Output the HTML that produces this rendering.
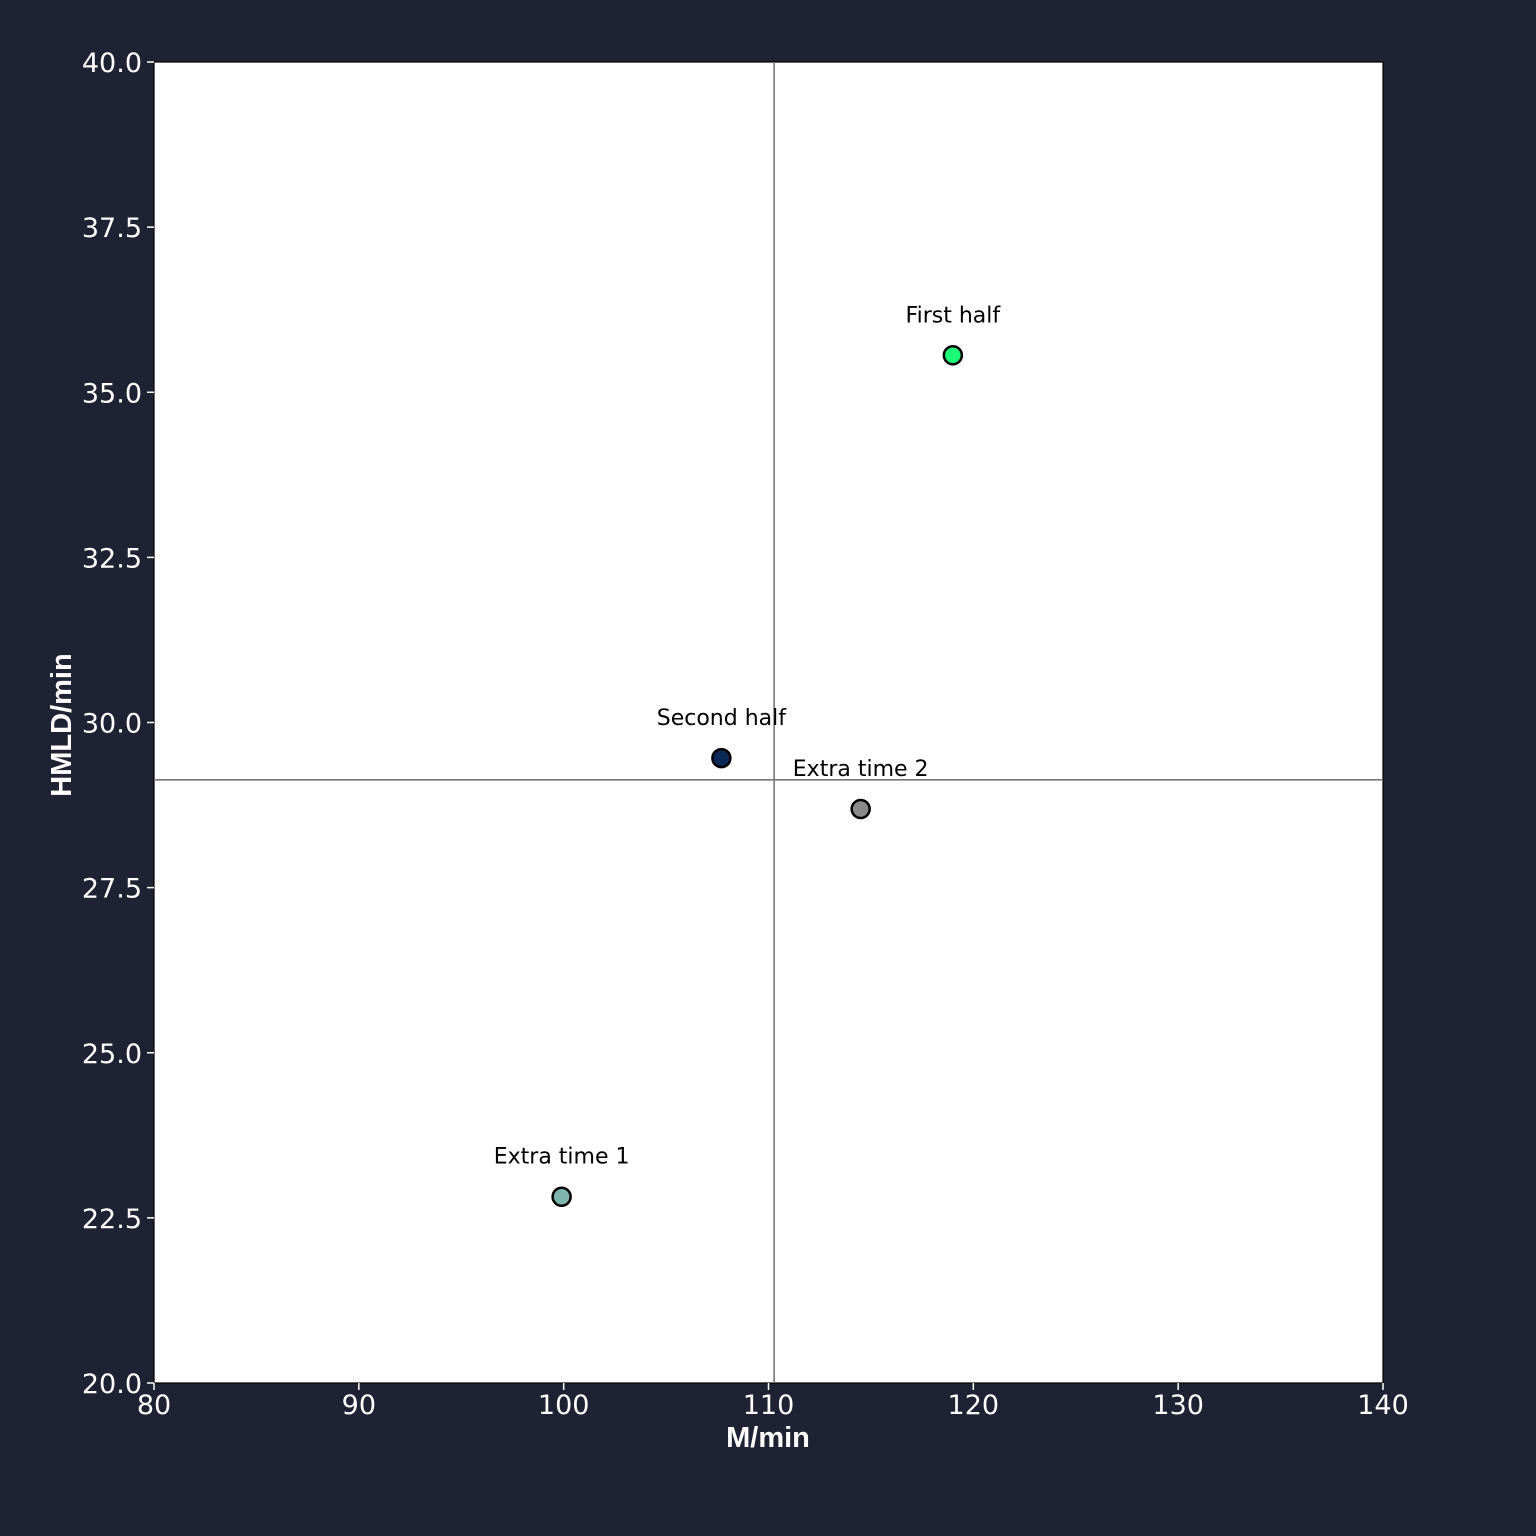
<!DOCTYPE html>
<html><head><meta charset="utf-8">
<style>
html,body{margin:0;padding:0;background:#1e2233;}
svg{display:block;}
</style></head>
<body>
<svg id="chart" width="1536" height="1536" xmlns="http://www.w3.org/2000/svg">
<rect x="0" y="0" width="1536" height="1536" fill="#1e2233"/>
<rect x="154" y="62" width="1229" height="1321" fill="#ffffff" stroke="#000" stroke-width="1.2"/>
<g id="grid"></g>
<g id="axes"></g>
<g id="marks"></g>
<text x="768" y="1447" fill="#fff" font-family="Liberation Sans, sans-serif" font-weight="bold" font-size="29" text-anchor="middle">M/min</text>
<text transform="translate(71,725) rotate(-90)" fill="#fff" font-family="Liberation Sans, sans-serif" font-weight="bold" font-size="29" text-anchor="middle">HMLD/min</text>
</svg>
<script>
const labels = ["First half","Second half","Extra time 2","Extra time 1"];
const xValues = [119.0, 107.7, 114.5, 99.9];
const yValues = [35.56, 29.46, 28.69, 22.82];
const colors = ["#1dfa78","#0b2857","#8a8a8a","#7db4ad"];
const xTicks = [80,90,100,110,120,130,140];
const yTicks = [20.0,22.5,25.0,27.5,30.0,32.5,35.0,37.5,40.0];

const X0=154,X1=1383,Y0=62,Y1=1383;
const xs=v=>X0+(v-80)/60*(X1-X0);
const ys=v=>Y1-(v-20)/20*(Y1-Y0);
const NS="http://www.w3.org/2000/svg";
function mk(tag,attrs,parent){const e=document.createElementNS(NS,tag);for(const k in attrs)e.setAttribute(k,attrs[k]);parent.appendChild(e);return e;}
const axes=document.getElementById('axes'),marks=document.getElementById('marks'),grid=document.getElementById('grid');
const font="DejaVu Sans, Liberation Sans, sans-serif";
xTicks.forEach(t=>{
  const l=mk('line',{x1:xs(t),x2:xs(t),y1:Y1,y2:Y1+7,stroke:'#fff','stroke-width':1.5},axes);
  
  
  const tx=mk('text',{x:xs(t),y:Y1+31,fill:'#fff','font-family':font,'font-size':27,'text-anchor':'middle'},axes);
  tx.textContent=t;
  
  
});
yTicks.forEach(t=>{
  const l=mk('line',{x1:X0-7,x2:X0,y1:ys(t),y2:ys(t),stroke:'#fff','stroke-width':1.5},axes);
  
  
  const tx=mk('text',{x:X0-12,y:ys(t)+10,fill:'#fff','font-family':font,'font-size':27,'text-anchor':'end'},axes);
  tx.textContent=t.toFixed(1);
  
  
});
const mx=xValues.reduce((a,b)=>a+b,0)/xValues.length;
const my=yValues.reduce((a,b)=>a+b,0)/yValues.length;
const vl=mk('line',{x1:xs(mx),x2:xs(mx),y1:Y0,y2:Y1,stroke:'#777','stroke-width':1.6},grid);


const hl=mk('line',{x1:X0,x2:X1,y1:ys(my),y2:ys(my),stroke:'#777','stroke-width':1.6},grid);


labels.forEach((lab,i)=>{
  const c=mk('circle',{cx:xs(xValues[i]),cy:ys(yValues[i]),r:9,fill:colors[i],stroke:'#000','stroke-width':2.5},marks);
  
  
  const t=mk('text',{x:xs(xValues[i]),y:ys(yValues[i])-33,fill:'#000','font-family':font,'font-size':22,'text-anchor':'middle'},marks);
  t.textContent=lab;
  
  
});
</script>
</body></html>
